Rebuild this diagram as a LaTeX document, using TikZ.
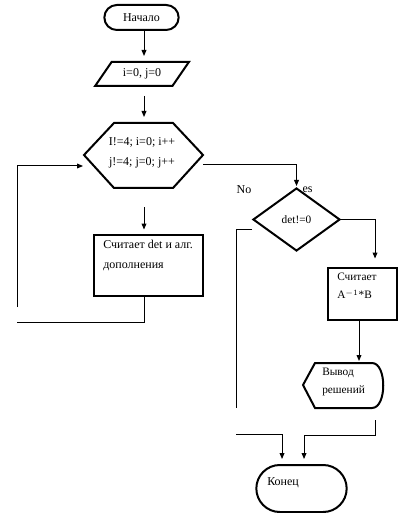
\documentclass[tikz,border=0pt]{standalone}
\usepackage{fontspec}
\setmainfont{Liberation Serif}
\usetikzlibrary{positioning,arrows.meta,shapes.geometric,shapes.misc}

\begin{document}
\begin{tikzpicture}[
  x=0.75pt, y=-0.75pt,
  >={Triangle[length=4.5pt,width=3.6pt]},
  term/.style={rounded rectangle, draw=black, line width=1.5pt, font=\fontsize{9}{11}\selectfont, inner sep=1pt},
  io/.style={trapezium, trapezium left angle=50, trapezium right angle=130, trapezium stretches=true, draw=black, line width=1.5pt, font=\fontsize{9}{11}\selectfont, inner sep=1pt},
  proc/.style={rectangle, draw=black, line width=2.2pt, inner sep=0pt},
  cond/.style={diamond, draw=black, line width=1.5pt, font=\fontsize{8.5}{10}\selectfont, inner sep=0pt},
  txt/.style={align=left, font=\fontsize{9}{15}\selectfont, inner sep=0pt},
  wire/.style={line width=0.75pt},
  conn/.style={line width=0.75pt, ->}
]
\useasboundingbox (0,0) rectangle (401,513);

% blocks
\node[term, minimum width=57.75pt, minimum height=18.75pt] (start) at (141.5,17.5) {Начало};
\node[io, minimum width=70.5pt, minimum height=18pt] (init) at (142,74) {i=0, j=0};
\draw[line width=1.5pt] (84,155) -- (114,123) -- (173,123) -- (203,155) -- (173,188) -- (114,188) -- cycle;
\node[align=center, font=\fontsize{9}{15}\selectfont, inner sep=0pt] (looptxt) at (142,153) {I!=4; i=0; i++\\j!=4; j=0; j++};
\coordinate (loopN) at (144,123);
\coordinate (loopS) at (144,188);
\coordinate (loopin) at (83,166);
\coordinate (loopout) at (203,165);
\node[proc, minimum width=81.75pt, minimum height=45.75pt] (calc) at (148.5,265.5) {};
\node[txt, anchor=north west] (calctxt) at (103,240) {Считает det и алг.\\дополнения};
\node[cond, minimum width=65.25pt, minimum height=47.25pt] (det) at (296.5,219.5) {det!=0};
\node[font=\fontsize{9}{11}\selectfont, inner sep=0pt] (no) at (244,190) {No};
\node[font=\fontsize{9}{11}\selectfont, inner sep=0pt] (yes) at (307.5,190) {es};
\node[proc, minimum width=51.75pt, minimum height=39pt] (calc2) at (362.5,294) {};
\node[txt, anchor=north west, font=\fontsize{8.5}{13.5}\selectfont] (calc2txt) at (337,273) {Считает\\A$^{-1}$*B};
\draw[line width=1.5pt] (303,385) -- (315,363) -- (372,363) .. controls (387,363) and (387,408) .. (372,408) -- (315,408) -- cycle;
\node[txt, anchor=north west, font=\fontsize{8.5}{13.5}\selectfont] (outtxt) at (322,368) {Вывод\\решений};
\coordinate (outN) at (359,363);
\coordinate (outS) at (375,420);
\node[term, minimum width=69.75pt, minimum height=35.25pt] (end) at (301.5,488.5) {};
\node[font=\fontsize{9}{11}\selectfont, anchor=west, inner sep=0pt] (endtxt) at (267,483) {Конец};

% connectors
\draw[conn, shorten >=3.75pt] (start.south -| loopN) -- (init.north -| loopN);
\draw[conn, shorten <=6.75pt, shorten >=4.5pt] (init.south -| loopN) -- (loopN);
\draw[conn, shorten <=14.25pt, shorten >=3pt] (loopS) -- (calc.north -| loopS);
\draw[wire] (calc.south -| loopS) |- (17,322);
\draw[conn] (17,307) |- (loopin);
\draw[conn, shorten >=0.75pt] (loopout) -| (det.north);
\draw[conn, shorten >=6pt] (det.east) -| ([xshift=9.4pt]calc2.north);
\draw[conn, shorten >=1.5pt] (calc2.south -| outN) -- (outN);
\draw[wire] ([yshift=-7.5pt]det.west) -| (236,408);
\draw[conn, shorten >=3.75pt] (236,434) -| ([xshift=-14.6pt]end.north);
\draw[conn, shorten >=3.75pt] (outS) -- ++(0,15) -| ([xshift=1.9pt]end.north);
\end{tikzpicture}
\end{document}
